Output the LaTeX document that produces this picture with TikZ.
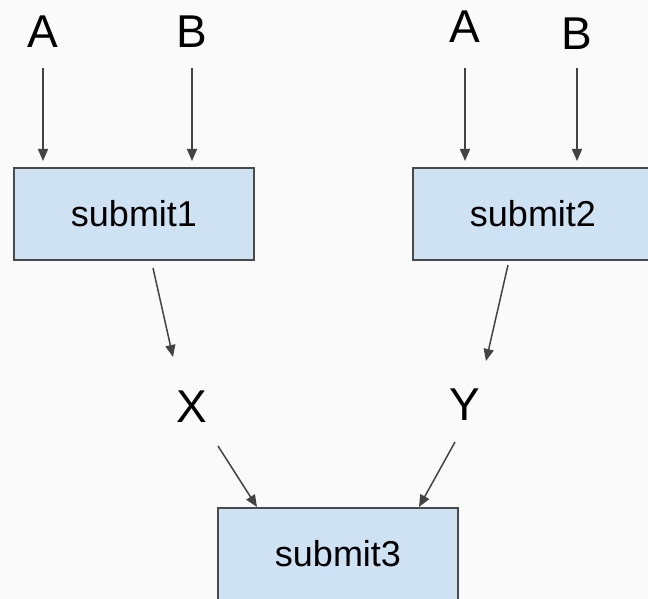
\documentclass[tikz,border=0pt]{standalone}
\usepackage{fontspec}
\setmainfont{Liberation Sans}
\usetikzlibrary{arrows.meta}
\definecolor{bg}{HTML}{FAFAFA}
\definecolor{boxfill}{HTML}{CFE2F3}
\definecolor{boxline}{HTML}{4A4A4A}
\definecolor{arrline}{HTML}{434343}
\tikzset{
  box/.style={draw=boxline, fill=boxfill, line width=1.6pt, minimum width=240pt, minimum height=92pt, inner sep=0pt, outer sep=0pt, font=\fontsize{36}{42}\selectfont},
  letter/.style={inner sep=0pt, outer sep=0pt, font=\fontsize{46}{52}\selectfont},
  arr/.style={draw=arrline, line width=1.5pt, -{Triangle[length=12pt,width=10pt]}}
}
\begin{document}
\begin{tikzpicture}[x=1pt,y=-1pt]
\useasboundingbox (0,0) rectangle (648,599);
\fill[bg] (0,0) rectangle (648,599);
\clip (0,0) rectangle (648,599);
% boxes
\node[box] (s1) at (134,214) {submit1};
\node[box] (s2) at (533,214) {submit2};
\node[box] (s3) at (338,554) {submit3};
% letters
\node[letter] (A1) at (43,32) {A};
\node[letter] (B1) at (192,32) {B};
\node[letter] (A2) at (465,27) {A};
\node[letter] (B2) at (577,34) {B};
\node[letter] (X) at (192,407) {X};
\node[letter] (Y) at (465,405) {Y};
% arrows
\draw[arr] ([yshift=-36pt]A1.center) -- ([yshift=7pt]A1 |- s1.north);
\draw[arr] ([yshift=-36pt]B1.center) -- ([yshift=7pt]B1 |- s1.north);
\draw[arr] ([yshift=-41pt]A2.center) -- ([yshift=7pt]A2 |- s2.north);
\draw[arr] ([yshift=-34pt]B2.center) -- ([yshift=7pt]B2 |- s2.north);
\draw[arr] ([xshift=19pt,yshift=-8pt]s1.south) -- ([xshift=-19pt,yshift=50pt]X.center);
\draw[arr] ([xshift=-25pt,yshift=-5pt]s2.south) -- ([xshift=21pt,yshift=44pt]Y.center);
\draw[arr] ([xshift=26pt,yshift=-39pt]X.center) -- ([xshift=-81pt,yshift=1pt]s3.north);
\draw[arr] ([xshift=-10pt,yshift=-37pt]Y.center) -- ([xshift=81pt,yshift=1pt]s3.north);
\end{tikzpicture}
\end{document}
